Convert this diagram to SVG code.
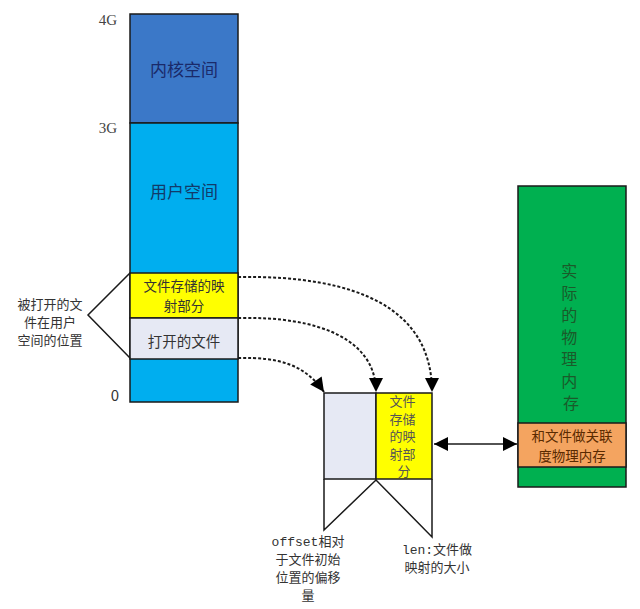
<svg xmlns="http://www.w3.org/2000/svg" width="640" height="609" viewBox="0 0 640 609">
<defs>
<style>
.t{font-family:"Noto Sans CJK SC","Liberation Sans",sans-serif;text-anchor:middle}
.s{font-family:"Liberation Serif","Noto Sans CJK SC",serif;text-anchor:middle}
.m{font-family:"Liberation Mono","Noto Sans CJK SC",monospace}
.box{stroke:#1a1a1a;stroke-width:1.5}
.ln{stroke:#1a1a1a;stroke-width:1.5;fill:none}
.dash{stroke:#1a1a1a;stroke-width:2;fill:none;stroke-dasharray:3 2}
</style>
<marker id="ah2" viewBox="0 0 10 10" refX="10" refY="5" markerWidth="16" markerHeight="14" orient="auto-start-reverse" markerUnits="userSpaceOnUse">
<path d="M0,0 L10,5 L0,10 z" fill="#000"/>
</marker>
</defs>
<rect width="640" height="609" fill="#fff"/>

<g id="axis-labels">
<text class="s" x="108" y="25" font-size="15" fill="#444">4G</text>
<text class="s" x="108" y="133" font-size="15" fill="#444">3G</text>
<text class="t" x="115" y="401" font-size="15" fill="#333">0</text>
</g>

<g id="kernel-space">
<rect class="box" x="130" y="14" width="108" height="109" fill="#3B78C8"/>
<text class="t" x="184" y="76" font-size="17" fill="#1a2a6a">内核空间</text>
</g>
<g id="user-space">
<rect class="box" x="130" y="123" width="108" height="279" fill="#00AEEF"/>
<text class="t" x="184" y="198" font-size="17" fill="#123a6a">用户空间</text>
</g>
<g id="mapped-part">
<rect class="box" x="130" y="273" width="108" height="45" fill="#FFFF00"/>
<text class="t" x="184" y="291" font-size="13.5" fill="#333">文件存储的映</text>
<text class="t" x="184" y="311" font-size="13.5" fill="#333">射部分</text>
</g>
<g id="opened-file">
<rect class="box" x="130" y="318" width="108" height="41" fill="#E6E9F4"/>
<text class="t" x="184" y="347" font-size="14.5" fill="#333">打开的文件</text>
</g>

<g id="position-label">
<text class="t" x="50" y="309" font-size="13" fill="#333">被打开的文</text>
<text class="t" x="50" y="327" font-size="13" fill="#333">件在用户</text>
<text class="t" x="50" y="345" font-size="13" fill="#333">空间的位置</text>
</g>

<g id="file-view">
<rect class="box" x="324" y="393" width="52" height="86" fill="#E6E9F4"/>
<rect class="box" x="376" y="393" width="56" height="86" fill="#FFFF00"/>
<text class="t" font-size="13" fill="#555">
<tspan x="404" y="406">文件</tspan>
<tspan x="404" y="423.5">存储</tspan>
<tspan x="404" y="441">的映</tspan>
<tspan x="404" y="458.5">射部</tspan>
<tspan x="404" y="476">分</tspan>
</text>
</g>

<g id="offset-label">
<text x="308" y="546" font-size="13" fill="#333" class="t"><tspan class="m">offset</tspan>相对</text>
<text class="t" x="308" y="564" font-size="13" fill="#333">于文件初始</text>
<text class="t" x="308" y="582" font-size="13" fill="#333">位置的偏移</text>
<text class="t" x="308" y="600" font-size="13" fill="#333">量</text>
</g>
<g id="len-label">
<text class="t" x="437" y="554" font-size="13" fill="#333"><tspan class="m">len:</tspan>文件做</text>
<text class="t" x="437" y="572" font-size="13" fill="#333">映射的大小</text>
</g>

<g id="physical-memory">
<rect class="box" x="518" y="186" width="108" height="301" fill="#00B050"/>
<text class="t" font-size="16" fill="#1a5a2a">
<tspan x="571" y="277">实</tspan>
<tspan x="571" y="299">际</tspan>
<tspan x="571" y="321">的</tspan>
<tspan x="571" y="343">物</tspan>
<tspan x="571" y="365">理</tspan>
<tspan x="571" y="387">内</tspan>
<tspan x="571" y="409">存</tspan>
</text>
</g>
<g id="related-memory">
<rect class="box" x="518" y="423" width="108" height="44" fill="#F4A460"/>
<text class="t" x="572" y="441" font-size="13.5" fill="#5a2a00">和文件做关联</text>
<text class="t" x="572" y="461" font-size="13.5" fill="#5a2a00">度物理内存</text>
</g>

<g id="connectors">
<path class="ln" d="M130,273 L88,315 L130,358"/>
<path class="ln" d="M324,479 L324,530 L376,480 L432,537 L432,479"/>
<path class="dash" d="M238,277 C360,275 432,310 432,392" marker-end="url(#ah2)"/>
<path class="dash" d="M238,318 C320,316 376,340 376,392" marker-end="url(#ah2)"/>
<path class="dash" d="M238,358 C280,357 305,365 324,392" marker-end="url(#ah2)"/>
<line class="ln" x1="434" y1="444" x2="517" y2="444" marker-start="url(#ah2)" marker-end="url(#ah2)"/>
</g>
</svg>
